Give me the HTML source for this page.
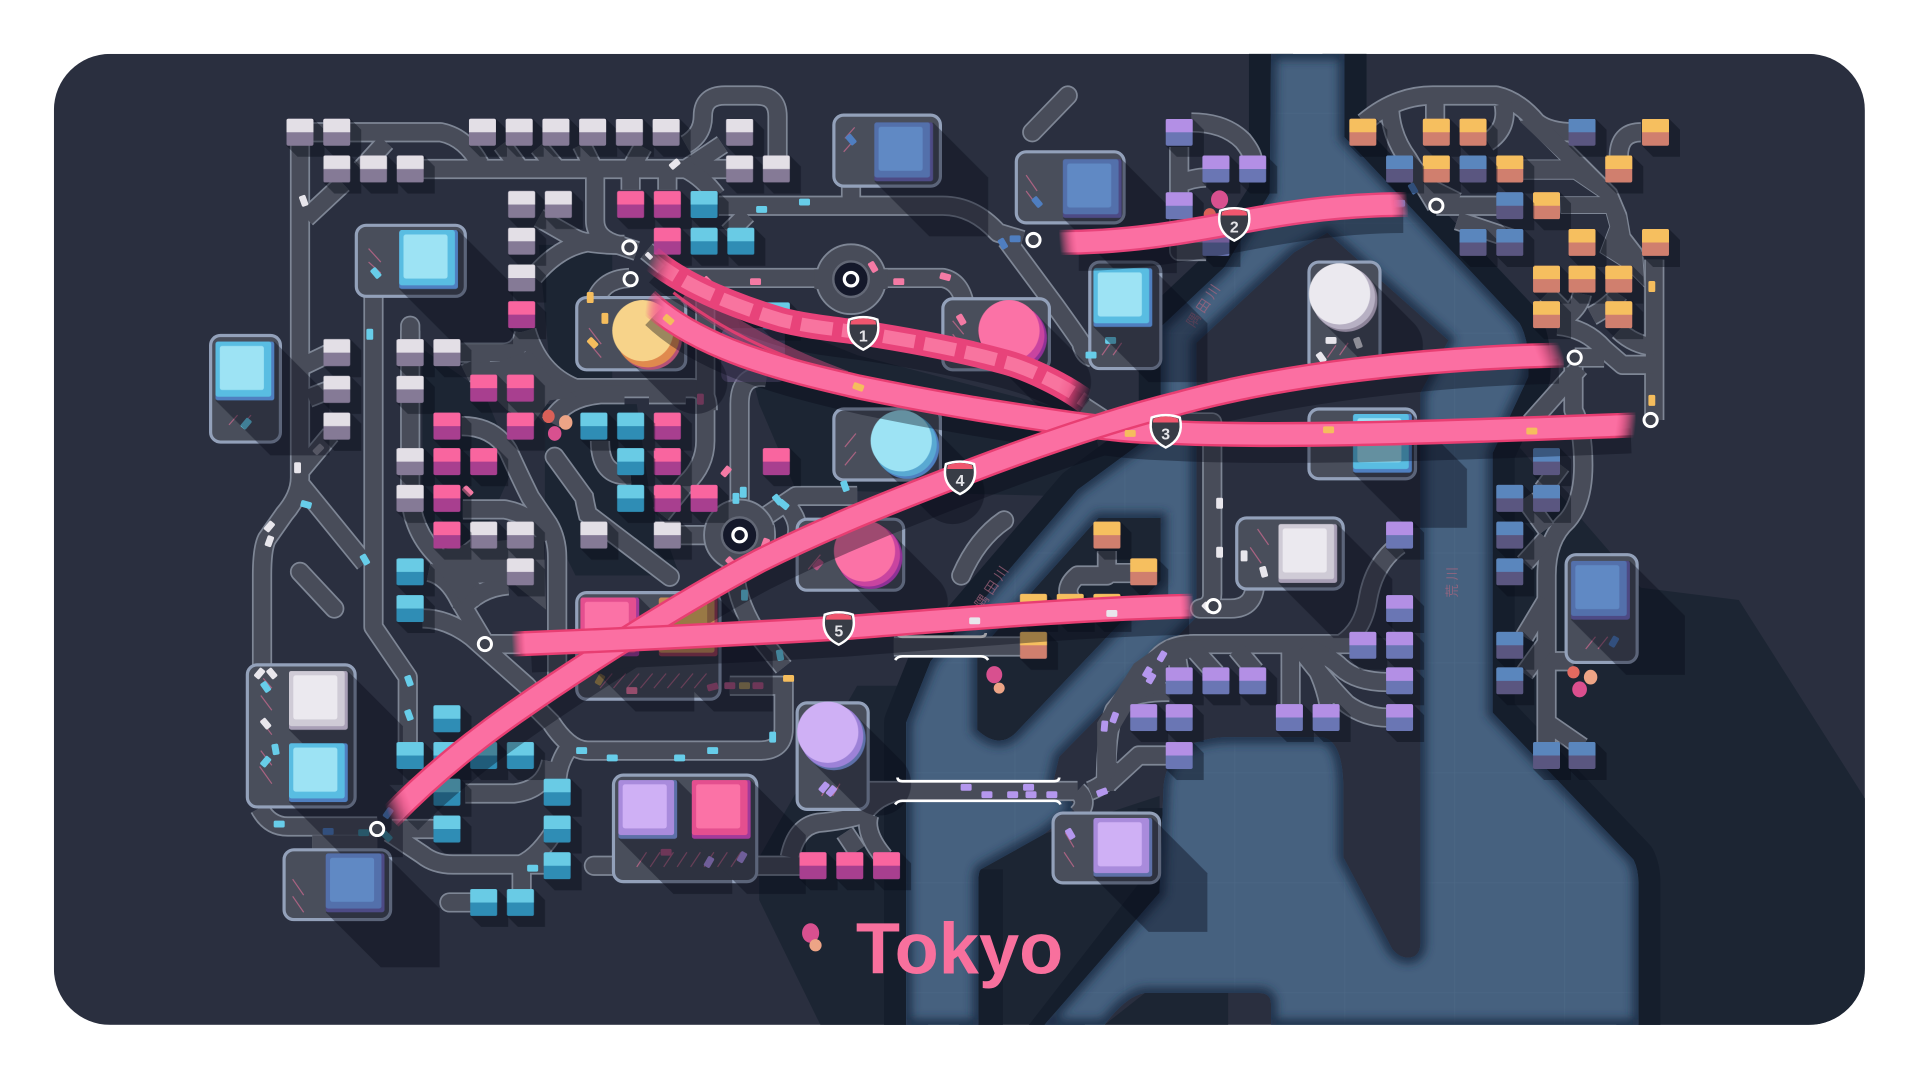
<!DOCTYPE html>
<html lang="en">
<head>
<meta charset="utf-8">
<title>Tokyo</title>
<style>
html,body{margin:0;padding:0;background:#fff;width:1920px;height:1080px;overflow:hidden}
svg{display:block}
.sh{fill:#080c19;opacity:.42}
.num{font:700 13px "Liberation Sans",sans-serif;fill:#e4e4e8;text-anchor:middle}
.riv{font:400 11px "Liberation Sans","Noto Sans CJK JP",sans-serif;fill:#a8667f;opacity:.7;letter-spacing:3px}
.hatch{stroke:#c8698d;stroke-width:1;fill:none;opacity:.75}
.park{fill:#494e5b;stroke:#93a1ba;stroke-width:2.600}
</style>
</head>
<body>
<svg xmlns="http://www.w3.org/2000/svg" width="1920" height="1080" viewBox="0 0 1568 882">
<defs>
<clipPath id="card"><rect x="44" y="44" width="1479" height="793" rx="46"/></clipPath>
<path id="riverP" fill-rule="evenodd" d="M1038,44H1098V112L1241,264Q1250,280 1248,308L1219,370V582L1334,702Q1338,710 1338,721V837H1038V820Q1038,811 1028,811H935Q920,813 902,837H853L947,729L950,648Q950,605 1000,602H1080Q1096,605 1097,640V700L1137,775Q1145,785 1155,781Q1160,778 1160,770V321L1183,278L1084,190L1057,206L977,280V504L865,618L860,639L879,659L853,681L801,710Q799,712 799,720V837H740V590L760,540L880,400L948,350V267L1000,218L1037,158ZM897,423H948V474L829,599Q815,612 798,596V533Z"/>
<clipPath id="riverC"><use href="#riverP" clip-rule="evenodd"/></clipPath>
<filter id="blur" x="-5%" y="-5%" width="110%" height="110%"><feGaussianBlur stdDeviation="4"/></filter>
<pattern id="grid" patternUnits="userSpaceOnUse" width="89.8" height="89.8" x="20.5" y="2.4">
<path d="M0 0H89.8M0 0V89.8" stroke="#55748f" stroke-width=".7" fill="none" opacity=".55"/>
</pattern>

<linearGradient id="stP"><stop offset="0" stop-color="#fb6fa2" stop-opacity="0"/><stop offset=".02" stop-color="#fb6fa2"/><stop offset=".98" stop-color="#fb6fa2"/><stop offset="1" stop-color="#fb6fa2" stop-opacity="0"/></linearGradient>
<linearGradient id="stE"><stop offset="0" stop-color="#e83e72" stop-opacity="0"/><stop offset=".02" stop-color="#e83e72"/><stop offset=".98" stop-color="#e83e72"/><stop offset="1" stop-color="#e83e72" stop-opacity="0"/></linearGradient>
<linearGradient id="stP2"><stop offset="0" stop-color="#fb6fa2" stop-opacity="0"/><stop offset=".05" stop-color="#fb6fa2"/><stop offset=".95" stop-color="#fb6fa2"/><stop offset="1" stop-color="#fb6fa2" stop-opacity="0"/></linearGradient>
<linearGradient id="stE2"><stop offset="0" stop-color="#e8437a" stop-opacity="0"/><stop offset=".05" stop-color="#e8437a"/><stop offset=".95" stop-color="#e8437a"/><stop offset="1" stop-color="#e8437a" stop-opacity="0"/></linearGradient>
<linearGradient id="stL"><stop offset="0" stop-color="#f8749f" stop-opacity="0"/><stop offset=".07" stop-color="#f8749f"/><stop offset=".93" stop-color="#f8749f"/><stop offset="1" stop-color="#f8749f" stop-opacity="0"/></linearGradient>
<linearGradient id="l1" href="#stL" gradientUnits="userSpaceOnUse" x1="531" y1="210" x2="888" y2="329"/>
<linearGradient id="e1" href="#stE2" gradientUnits="userSpaceOnUse" x1="531" y1="210" x2="888" y2="329"/>
<linearGradient id="p2" href="#stP2" gradientUnits="userSpaceOnUse" x1="865" y1="198" x2="1150" y2="167"/>
<linearGradient id="e2" href="#stE2" gradientUnits="userSpaceOnUse" x1="865" y1="198" x2="1150" y2="167"/>
<linearGradient id="p3" href="#stP" gradientUnits="userSpaceOnUse" x1="528" y1="245" x2="1336" y2="347"/>
<linearGradient id="e3" href="#stE" gradientUnits="userSpaceOnUse" x1="528" y1="245" x2="1336" y2="347"/>
<linearGradient id="p4" href="#stP" gradientUnits="userSpaceOnUse" x1="318" y1="668" x2="1277" y2="290"/>
<linearGradient id="e4" href="#stE" gradientUnits="userSpaceOnUse" x1="318" y1="668" x2="1277" y2="290"/>
<linearGradient id="p5" href="#stP" gradientUnits="userSpaceOnUse" x1="418" y1="526" x2="975" y2="495"/>
<linearGradient id="e5" href="#stE" gradientUnits="userSpaceOnUse" x1="418" y1="526" x2="975" y2="495"/>

<path id="bs" d="M11-11l9 9v22h-22l-9-9z"/>
<path id="bt" d="M-11-9.500q0-1.500 1.500-1.500h19q1.500 0 1.500 1.500V0h-22z"/>
<g id="W"><use href="#bs" class="sh"/><rect x="-11" y="-11" width="22" height="22" rx="1.500" fill="#857a96"/><use href="#bt" fill="#e3dfe6"/></g>
<g id="P"><use href="#bs" class="sh"/><rect x="-11" y="-11" width="22" height="22" rx="1.500" fill="#a83f8f"/><use href="#bt" fill="#f9659f"/></g>
<g id="T"><use href="#bs" class="sh"/><rect x="-11" y="-11" width="22" height="22" rx="1.500" fill="#2f8db5"/><use href="#bt" fill="#69cbe5"/></g>
<g id="O"><use href="#bs" class="sh"/><rect x="-11" y="-11" width="22" height="22" rx="1.500" fill="#d07f6e"/><use href="#bt" fill="#f6bf5f"/></g>
<g id="B"><use href="#bs" class="sh"/><rect x="-11" y="-11" width="22" height="22" rx="1.500" fill="#5a5680"/><use href="#bt" fill="#5a86bd"/></g>
<g id="V"><use href="#bs" class="sh"/><rect x="-11" y="-11" width="22" height="22" rx="1.500" fill="#6a76b4"/><use href="#bt" fill="#b38fe5"/></g>

<g id="BT"><rect width="48" height="48" rx="2" fill="#4f7fc0"/><rect width="45.500" height="45" rx="2" fill="#59bde2"/><rect x="3.500" y="3.500" width="36" height="36" rx="2" fill="#9de3f4"/></g>
<g id="BB"><rect width="48" height="48" rx="2" fill="#4d4a85"/><rect width="45.500" height="45" rx="2" fill="#5370ab"/><rect x="3.500" y="3.500" width="36" height="36" rx="2" fill="#6089c4"/></g>
<g id="BW"><rect width="48" height="48" rx="2" fill="#a89fb6"/><rect width="45.500" height="45" rx="2" fill="#cfcbd6"/><rect x="3.500" y="3.500" width="36" height="36" rx="2" fill="#ebe9ef"/></g>
<g id="BV"><rect width="48" height="48" rx="2" fill="#5d70a8"/><rect width="45.500" height="45" rx="2" fill="#a98bdc"/><rect x="3.500" y="3.500" width="36" height="36" rx="2" fill="#cfb0f5"/></g>
<g id="BP"><rect width="48" height="48" rx="2" fill="#a23a9a"/><rect width="45.500" height="45" rx="2" fill="#e44f8f"/><rect x="3.500" y="3.500" width="36" height="36" rx="2" fill="#fb72a6"/></g>
<path id="BS" d="M48 0l45 45v48h-48l-45-45z"/>

<rect id="c" x="-4.500" y="-2.800" width="9" height="5.600" rx="1.300"/>
<path id="shield" d="M-11.500-11Q-6-13 0-13T11.500-11Q15.500 6 0 13.500Q-15.500 6-11.500-11Z"/>

<g id="rd" fill="none" stroke-linejoin="round">
<path d="M245,108H360Q380,112 392,134M315,116L295,138"/>
<path d="M245,108V390Q245,405 232,420L218,440Q214,448 214,470V545"/>
<path d="M245,395L298,460M280,150L250,178M245,300L270,288M252,325L270,318M270,355L245,385"/>
<path d="M305,240V512L333,553V620"/>
<path d="M335,138H604M560,118Q574,110 574,95Q574,78 592,78H618Q635,78 635,95V138M425,138L410,118M455,138L440,120M485,138L475,118M515,138L525,120M560,138L590,118"/>
<path d="M486,138V180Q486,195 505,200L520,205M515,138V155M545,138V155M560,138Q574,145 585,160"/>
<path d="M587,168H770Q795,168 815,190L835,196M822,196L862,250Q880,275 883,280Q885,290 892,292M695,150V168M610,175L595,190"/>
<path d="M528,205L555,227H770Q785,230 788,250"/>
<path d="M514,227Q490,228 485,250M440,178L470,195Q480,200 510,200M436,226Q460,197 490,197"/>
<path d="M430,270Q440,305 470,317H565Q578,317 578,335M376,288H410Q425,288 428,272M380,305L400,295"/>
<path d="M576,245V360Q576,380 560,395L540,420M604,410V330Q604,305 626,308"/>
<path d="M335,270V400Q335,440 370,465L395,490"/>
<path d="M377,348Q403,348 415,368Q425,390 433,406L448,428Q455,440 455,455V560M378,416H412Q435,420 448,440"/>
<path d="M345,505Q365,505 385,520L430,560Q440,570 430,578M350,467Q365,470 375,490L396,525M415,478Q390,480 375,500M360,470L395,442M396,526H425"/>
<path d="M490,360Q490,390 515,388M450,345Q460,325 490,322H510M530,322H560"/>
<path d="M556,437H604M604,436L650,405H700M640,410Q655,425 650,440M600,462Q600,490 620,520L640,545"/>
<path d="M596,560H640M640,555V595Q640,613 620,613H480Q465,613 450,590L430,570M463,613Q455,625 455,640"/>
<path d="M380,648H420Q445,645 450,622M320,677H360M318,680L345,698Q355,706 370,706H425Q440,700 455,675M425,706H445M426,706V730"/>
<path d="M212,660Q220,675 235,675H308M255,689H308"/>
<path d="M610,707H660M880,646H700M735,646Q715,650 705,665Q690,670 668,672Q650,675 645,700M710,665Q705,680 722,700M690,680L700,695"/>
<path d="M730,528H835"/>
<path d="M885,332L905,345H990V485Q990,495 980,497H1005Q1025,497 1025,475"/>
<path d="M904,450V470H880Q868,480 875,490M904,468H925"/>
<path d="M1143,445Q1122,460 1117,490Q1113,515 1095,526H975Q950,526 940,545L910,580Q903,600 903,646M905,640L930,617H955M915,575Q925,565 955,565"/>
<path d="M1054,530V575M1066,530Q1080,550 1085,575M1065,528Q1085,535 1095,545Q1108,557 1133,557M1062,530Q1085,560 1100,575Q1115,586 1133,586M1010,530L1025,548M975,530L993,550M960,530L963,548M1113,526H1095"/>
<path d="M890,646Q905,640 915,625M880,646Q890,655 880,665"/>
<path d="M973,100Q1000,100 1015,115Q1023,125 1023,130M963,120V205H985M963,150Q975,145 985,145"/>
<path d="M1114,100Q1140,78 1170,78H1222Q1240,82 1255,100Q1265,108 1285,108M1351,212V343"/>
<path d="M1135,85Q1135,110 1150,130L1173,168M1172,78V100M1228,85Q1232,105 1215,116M1340,108Q1322,108 1322,128"/>
<path d="M1173,168H1230M1190,180L1235,195M1160,150L1190,165"/>
<path d="M1292,240Q1290,250 1280,258M1322,240Q1315,250 1300,258M1263,240L1285,262M1322,270Q1335,282 1351,283"/>
<path d="M1272,266Q1295,268 1310,285L1325,298H1351M1286,292H1310M1290,300L1250,345M1285,300V335Q1293,350 1293,380Q1293,410 1280,425Q1263,440 1263,470V595M1263,590L1292,610M1263,595V610M1263,540H1285"/>
<path d="M1245,407L1263,432M1245,460L1263,440M1245,520L1263,490M1245,550L1263,525M1275,380L1260,400"/>
</g>
<g id="rc" fill="none" stroke-linecap="round">
<path d="M245,467L273,497"/>
<path d="M872,78L843,108"/>
<path d="M453,373L477,406Q478,412 480,420L547,471"/>
<path d="M335,266V280"/>
<path d="M395,737H367"/>
<path d="M510,707H485"/>
<path d="M820,425Q798,440 785,470"/>
</g>
</defs>

<rect width="1568" height="882" fill="#fff"/>
<g clip-path="url(#card)">
<rect x="44" y="44" width="1479" height="793" fill="#2a2f3f"/>

<!-- land shadows -->
<g fill="#1c2533">
<path d="M1219,340L1340,480L1420,490L1523,652V837H1338V720L1219,600Z"/>
<path d="M620,700V735L670,837H740V560H700Z"/>
<path d="M799,710L853,681L947,650V729L853,837H799Z"/>
<path d="M902,837L935,811H1003V837Z"/>
<path d="M600,250L700,290L890,340L900,375L860,405L650,400L620,330Z"/>
<path d="M440,200H500V310H450Z"/>
<path d="M445,330H520L530,400L555,470H470L445,420Z"/>
<path d="M345,285L395,320L420,380L380,470L345,450Z"/>
</g>

<!-- river -->
<g fill="none" stroke="#151e2c" stroke-width="36" stroke-linejoin="round">
<path d="M1038,30V158L1000,218L948,267V350L880,400L760,540L740,590V850"/>
<path d="M1098,30V112L1241,264Q1250,280 1248,308L1219,370V582L1334,702Q1338,710 1338,721V850"/>
<path d="M801,710V850M853,850L947,729V660"/>
</g>
<path fill="#1c2533" d="M897,423H948V474L829,599Q815,612 798,596V533Z"/>
<use href="#riverP" fill="#46617f"/>
<use href="#riverP" fill="url(#grid)"/>
<g clip-path="url(#riverC)">
<use href="#riverP" fill="none" stroke="#1d2f46" stroke-width="9" filter="url(#blur)"/>
</g>
<text class="riv" transform="translate(975,268) rotate(-56)">隅田川</text>
<text class="riv" transform="translate(802,498) rotate(-56)">隅田川</text>
<text class="riv" transform="translate(1190,488) rotate(-90)">荒川</text>

<!-- roads -->
<g stroke="#7e8695" stroke-width="1.500" fill="#484c59" stroke-linejoin="round">
<path d="M1241,97L1258,93L1282,117L1320,155L1328,174L1331,191L1341,204L1343,234L1329,220L1307,206L1315,185L1312,174L1275,174L1274,161L1307,161L1285,146L1244,146L1244,131L1275,131Z"/>
</g>
<use href="#rd" stroke="#7e8695" stroke-width="16.500"/>
<use href="#rc" stroke="#7e8695" stroke-width="16.500"/>
<use href="#rd" stroke="#484c59" stroke-width="13.700"/>
<use href="#rc" stroke="#484c59" stroke-width="13.700"/>
<g fill="#484c59">
<path d="M896,590L926,542L953,523H980V534L953,544L951,563L928,572L912,599L911,632L896,650Z"/>
<path d="M378,297L408,295L433,286L449,308L471,324L449,327L435,346L414,335L384,305Z"/>
<path d="M347,452L384,444L444,438L446,498L416,474L389,476L377,493L370,482Z"/>
<path d="M1241,99L1258,95L1282,119L1320,157L1328,176L1331,193L1341,206L1343,234L1329,220L1307,206L1315,185L1312,174L1275,174L1274,161L1307,161L1285,146L1244,146L1244,131L1275,131Z"/>
</g>

<!-- hubs -->
<circle cx="695" cy="228" r="28.500" fill="#484c59" stroke="#7e8695" stroke-width="1.500"/>
<circle cx="604" cy="437" r="29" fill="#484c59" stroke="#7e8695" stroke-width="1.500"/>
<path fill="#484c59" d="M665,220H725V236H665ZM577,429H632V445H577Z"/>

<!-- parks -->
<rect class="park" x="291" y="184" width="89" height="58" rx="8"/>
<rect class="park" x="172" y="274" width="57" height="87" rx="8"/>
<rect class="park" x="471" y="243" width="89" height="59" rx="8"/>
<rect class="park" x="681" y="94" width="87" height="58" rx="8"/>
<rect class="park" x="830" y="124" width="88" height="58" rx="8"/>
<rect class="park" x="770" y="244" width="87" height="58" rx="8"/>
<rect class="park" x="890" y="214" width="58" height="87" rx="8"/>
<rect class="park" x="1069" y="214" width="58" height="90" rx="8"/>
<rect class="park" x="1069" y="334" width="87" height="57" rx="8"/>
<rect class="park" x="681" y="334" width="87" height="58" rx="8"/>
<rect class="park" x="1010" y="423" width="87" height="58" rx="8"/>
<rect class="park" x="1279" y="453" width="58" height="88" rx="8"/>
<rect class="park" x="651" y="424" width="87" height="58" rx="8"/>
<rect class="park" x="471" y="484" width="117" height="87" rx="8"/>
<rect class="park" x="202" y="543" width="88" height="116" rx="8"/>
<rect class="park" x="651" y="574" width="58" height="87" rx="8"/>
<rect class="park" x="232" y="694" width="87" height="57" rx="8"/>
<rect class="park" x="501" y="633" width="117" height="87" rx="8"/>
<rect class="park" x="860" y="664" width="87" height="57" rx="8"/>

<rect x="589" y="268" width="52" height="44" rx="6" fill="#6d5e8d" opacity=".55"/>

<!-- hatch -->
<g class="hatch">
<path d="M301,203l10,11M301,214l10,9M698,104l-8,9M697,115l-8,9M838,143l9,13M838,156l9,12"/>
<path d="M187,347l7-8M198,347l7-8M481,268l10,13M481,280l10,12M778,262l9,11M778,273l9,11M909,290l7-10M900,290l7-10"/>
<path d="M1094,290l7-10M1084,292l7-10M1036,445l-9-13M1030,460l-9-13M1305,530l8-10M1295,530l8-10M690,365l9-11M690,380l9-11"/>
<path d="M660,465l10-12M665,445l-8-10"/>
<path d="M490,562l10-12M501,562l10-12M512,562l10-12M523,562l10-12M534,562l10-12M545,562l10-12M556,562l10-12M567,562l10-12"/>
<path d="M222,562l-7-8M222,580l-9-12M222,600l-9-12M222,625l-9-12M222,640l-10-14M248,731l-9-13M248,745l-9-13"/>
<path d="M520,708l8-12M531,708l8-12M542,708l8-12M553,708l8-12M564,708l8-12M575,708l8-12M586,708l8-12M597,708l8-12"/>
<path d="M671,650l6-10M680,650l6-10M877,692l-7-12M877,708l-8-12"/>
</g>

<!-- cars -->
<g fill="#e8e6ec">
<use href="#c" transform="translate(248,164) rotate(70)"/><use href="#c" transform="translate(551,134) rotate(-40)"/><use href="#c" transform="translate(530,209) rotate(45) scale(.7)"/>
<use href="#c" transform="translate(243,382) rotate(90)"/><use href="#c" transform="translate(220,430) rotate(-50)"/><use href="#c" transform="translate(220,442) rotate(-70)"/>
<use href="#c" transform="translate(212,550) rotate(-50)"/><use href="#c" transform="translate(222,550) rotate(50)"/><use href="#c" transform="translate(217,591) rotate(50)"/>
<use href="#c" transform="translate(1087,278)"/><use href="#c" transform="translate(1109,280) rotate(70)"/><use href="#c" transform="translate(1079,292) rotate(55)"/>
<use href="#c" transform="translate(996,411) rotate(90)"/><use href="#c" transform="translate(996,451) rotate(90)"/><use href="#c" transform="translate(1016,454) rotate(90)"/><use href="#c" transform="translate(1032,467) rotate(75)"/><use href="#c" transform="translate(986,496) rotate(45)"/>
</g>
<use href="#c" transform="translate(260,367) rotate(-45)" fill="#8a8a96"/>
<g fill="#f47aa4">
<use href="#c" transform="translate(617,230)"/><use href="#c" transform="translate(578,230) rotate(45)"/><use href="#c" transform="translate(713,218) rotate(60)"/><use href="#c" transform="translate(734,230)"/><use href="#c" transform="translate(772,226) rotate(15)"/>
<use href="#c" transform="translate(593,385) rotate(-50)"/><use href="#c" transform="translate(625,444) rotate(-70)"/><use href="#c" transform="translate(597,459) rotate(45)"/><use href="#c" transform="translate(516,564)"/><use href="#c" transform="translate(785,261) rotate(60)"/><use href="#c" transform="translate(382,401) rotate(45)"/>
</g>
<g fill="#b25582">
<use href="#c" transform="translate(582,561) rotate(-15)"/><use href="#c" transform="translate(596,560)"/><use href="#c" transform="translate(619,560)"/><use href="#c" transform="translate(572,326) rotate(90)"/><use href="#c" transform="translate(544,696)"/><use href="#c" transform="translate(668,461) rotate(-50)"/>
</g>
<use href="#c" transform="translate(608,560)" fill="#a6905d"/>
<g fill="#67cde9">
<use href="#c" transform="translate(622,171)"/><use href="#c" transform="translate(657,165)"/><use href="#c" transform="translate(302,273) rotate(90)"/><use href="#c" transform="translate(307,223) rotate(50)"/>
<use href="#c" transform="translate(250,412) rotate(15)"/><use href="#c" transform="translate(298,457) rotate(60)"/><use href="#c" transform="translate(334,556) rotate(70)"/><use href="#c" transform="translate(334,584) rotate(70)"/>
<use href="#c" transform="translate(601,407) rotate(90)"/><use href="#c" transform="translate(607,402) rotate(90)"/><use href="#c" transform="translate(635,408) rotate(50)"/><use href="#c" transform="translate(640,412) rotate(40)"/><use href="#c" transform="translate(608,486) rotate(90)"/><use href="#c" transform="translate(637,535) rotate(80)"/>
<use href="#c" transform="translate(475,613)"/><use href="#c" transform="translate(500,619)"/><use href="#c" transform="translate(555,619)"/><use href="#c" transform="translate(582,613)"/><use href="#c" transform="translate(631,602) rotate(90)"/>
<use href="#c" transform="translate(217,561) rotate(55)"/><use href="#c" transform="translate(225,612) rotate(80)"/><use href="#c" transform="translate(217,622) rotate(-50)"/><use href="#c" transform="translate(228,673)"/><use href="#c" transform="translate(435,709)"/><use href="#c" transform="translate(907,278)"/><use href="#c" transform="translate(891,290)"/><use href="#c" transform="translate(201,346) rotate(-50)"/><use href="#c" transform="translate(690,397) rotate(70)"/>
</g>
<g fill="#f5bd5d">
<use href="#c" transform="translate(482,243) rotate(90)"/><use href="#c" transform="translate(494,260) rotate(90)"/><use href="#c" transform="translate(484,280) rotate(45)"/><use href="#c" transform="translate(644,554)"/><use href="#c" transform="translate(1349,234) rotate(90)"/><use href="#c" transform="translate(1349,327) rotate(90)"/>
</g>
<use href="#c" transform="translate(490,555) rotate(-60)" fill="#b09150"/>
<g fill="#4f7ec0">
<use href="#c" transform="translate(695,114) rotate(50)"/><use href="#c" transform="translate(847,165) rotate(50)"/><use href="#c" transform="translate(829,195)"/><use href="#c" transform="translate(819,199) rotate(60)"/><use href="#c" transform="translate(1143,166)"/><use href="#c" transform="translate(1154,154) rotate(60)"/><use href="#c" transform="translate(268,679)"/><use href="#c" transform="translate(317,664) rotate(-55)"/><use href="#c" transform="translate(1318,524) rotate(-60)"/><use href="#c" transform="translate(875,355) rotate(40)"/>
</g>
<g fill="#3e8a9f">
<use href="#c" transform="translate(297,680)"/><use href="#c" transform="translate(316,683) rotate(45)"/>
</g>
<g fill="#b497ee">
<use href="#c" transform="translate(949,536) rotate(-60)"/><use href="#c" transform="translate(937,549) rotate(-60)"/><use href="#c" transform="translate(940,554) rotate(-60)"/><use href="#c" transform="translate(910,586) rotate(-70)"/><use href="#c" transform="translate(902,593) rotate(-85)"/><use href="#c" transform="translate(900,647) rotate(-20)"/>
<use href="#c" transform="translate(789,643)"/><use href="#c" transform="translate(806,649)"/><use href="#c" transform="translate(827,649)"/><use href="#c" transform="translate(840,643)"/><use href="#c" transform="translate(842,649)"/><use href="#c" transform="translate(859,649)"/>
<use href="#c" transform="translate(673,643) rotate(-50)"/><use href="#c" transform="translate(679,646) rotate(-50)"/><use href="#c" transform="translate(579,704) rotate(-60)"/><use href="#c" transform="translate(606,700) rotate(-60)"/><use href="#c" transform="translate(874,681) rotate(60)"/>
</g>

<!-- building long shadows -->
<g fill="#080c19" opacity=".4">
<use href="#BS" x="326" y="188"/><use href="#BS" x="176" y="279"/><use href="#BS" x="714" y="100"/><use href="#BS" x="868" y="130"/><use href="#BS" x="893" y="219"/><use href="#BS" x="1105" y="338"/><use href="#BS" x="1044" y="428"/><use href="#BS" x="1283" y="458"/><use href="#BS" x="474" y="488"/><use href="#BS" x="538" y="488"/><use href="#BS" x="236" y="548"/><use href="#BS" x="236" y="607"/><use href="#BS" x="266" y="697"/><use href="#BS" x="505" y="637"/><use href="#BS" x="565" y="637"/><use href="#BS" x="893" y="668"/>
<path stroke="#080c19" stroke-width="52" stroke-linecap="round" d="M528,272l40,40M825,272l40,40M1096,242l40,40M738,362l40,40M708,452l40,40M678,600l40,40"/>
</g>

<use href="#T" x="634" y="258"/>

<!-- buildings -->
<use href="#BT" x="326" y="188"/>
<use href="#BT" x="176" y="279"/>
<use href="#BB" x="714" y="100"/>
<use href="#BB" x="868" y="130"/>
<use href="#BT" x="893" y="219"/>
<use href="#BT" x="1105" y="338"/>
<use href="#BW" x="1044" y="428"/>
<use href="#BB" x="1283" y="458"/>
<use href="#BP" x="474" y="488"/>
<g transform="translate(538,488)"><rect width="48" height="48" rx="2" fill="#9a3d55"/><rect width="45.500" height="45" rx="2" fill="#c58a55"/><rect x="3.500" y="3.500" width="36" height="36" rx="2" fill="#f3bd62"/></g>
<use href="#BW" x="236" y="548"/>
<use href="#BT" x="236" y="607"/>
<use href="#BB" x="266" y="697"/>
<use href="#BV" x="505" y="637"/>
<use href="#BP" x="565" y="637"/>
<use href="#BV" x="893" y="668"/>

<!-- circular buildings -->
<g>
<circle cx="531" cy="276" r="26" fill="#b55177"/><circle cx="529" cy="274" r="26" fill="#e08a4e"/><circle cx="525" cy="270" r="25" fill="#f7d38a"/>
<circle cx="829" cy="276" r="26" fill="#8e3196"/><circle cx="827" cy="274" r="26" fill="#c944a0"/><circle cx="824" cy="270" r="25" fill="#fb72a6"/>
<circle cx="1099" cy="245" r="26" fill="#8d8499"/><circle cx="1097" cy="243" r="26" fill="#b7b0c3"/><circle cx="1094" cy="240" r="25" fill="#ebe9ef"/>
<circle cx="741" cy="365" r="26" fill="#4f7fc0"/><circle cx="739" cy="363" r="26" fill="#59a9d2"/><circle cx="736" cy="360" r="25" fill="#9de3f4"/>
<circle cx="711" cy="455" r="26" fill="#8e3196"/><circle cx="709" cy="453" r="26" fill="#c944a0"/><circle cx="706" cy="450" r="25" fill="#fb72a6"/>
<circle cx="681" cy="603" r="26" fill="#5d70a8"/><circle cx="679" cy="601" r="26" fill="#9d82d8"/><circle cx="676" cy="598" r="25" fill="#cfb0f5"/>
</g>

<!-- city blocks -->
<g>
<use href="#W" x="245" y="108"/><use href="#W" x="275" y="108"/><use href="#W" x="394" y="108"/><use href="#W" x="424" y="108"/><use href="#W" x="454" y="108"/><use href="#W" x="484" y="108"/><use href="#W" x="514" y="108"/><use href="#W" x="544" y="108"/><use href="#W" x="604" y="108"/>
<use href="#W" x="275" y="138"/><use href="#W" x="305" y="138"/><use href="#W" x="335" y="138"/><use href="#W" x="604" y="138"/><use href="#W" x="634" y="138"/>
<use href="#W" x="426" y="167"/><use href="#W" x="456" y="167"/><use href="#W" x="426" y="197"/><use href="#W" x="426" y="227"/>
<use href="#W" x="275" y="288"/><use href="#W" x="275" y="318"/><use href="#W" x="275" y="348"/><use href="#W" x="335" y="288"/><use href="#W" x="365" y="288"/><use href="#W" x="335" y="318"/><use href="#W" x="335" y="377"/><use href="#W" x="335" y="407"/>
<use href="#W" x="395" y="437"/><use href="#W" x="425" y="437"/><use href="#W" x="425" y="467"/><use href="#W" x="485" y="437"/><use href="#W" x="545" y="437"/>

<use href="#P" x="426" y="257"/><use href="#P" x="515" y="167"/><use href="#P" x="545" y="167"/><use href="#P" x="545" y="197"/>
<use href="#P" x="395" y="317"/><use href="#P" x="425" y="317"/><use href="#P" x="365" y="348"/><use href="#P" x="425" y="348"/><use href="#P" x="365" y="377"/><use href="#P" x="395" y="377"/><use href="#P" x="365" y="407"/><use href="#P" x="365" y="437"/>
<use href="#P" x="545" y="348"/><use href="#P" x="545" y="377"/><use href="#P" x="545" y="407"/><use href="#P" x="575" y="407"/><use href="#P" x="634" y="377"/>
<use href="#P" x="664" y="707"/><use href="#P" x="694" y="707"/><use href="#P" x="724" y="707"/>

<use href="#T" x="575" y="167"/><use href="#T" x="575" y="197"/><use href="#T" x="605" y="197"/>
<use href="#T" x="485" y="348"/><use href="#T" x="515" y="348"/><use href="#T" x="515" y="377"/><use href="#T" x="515" y="407"/>
<use href="#T" x="335" y="467"/><use href="#T" x="335" y="497"/><use href="#T" x="365" y="587"/><use href="#T" x="335" y="617"/><use href="#T" x="365" y="617"/><use href="#T" x="395" y="617"/><use href="#T" x="425" y="617"/>
<use href="#T" x="365" y="647"/><use href="#T" x="455" y="647"/><use href="#T" x="365" y="677"/><use href="#T" x="455" y="677"/><use href="#T" x="455" y="707"/><use href="#T" x="395" y="737"/><use href="#T" x="425" y="737"/>

<use href="#O" x="1113" y="108"/><use href="#O" x="1173" y="108"/><use href="#O" x="1203" y="108"/><use href="#O" x="1173" y="138"/><use href="#O" x="1233" y="138"/><use href="#O" x="1263" y="168"/><use href="#O" x="1292" y="198"/><use href="#O" x="1352" y="198"/><use href="#O" x="1263" y="228"/><use href="#O" x="1292" y="228"/><use href="#O" x="1322" y="228"/><use href="#O" x="1263" y="257"/><use href="#O" x="1322" y="257"/><use href="#O" x="1322" y="138"/><use href="#O" x="1352" y="108"/>
<use href="#O" x="904" y="437"/><use href="#O" x="934" y="467"/><use href="#O" x="844" y="496"/><use href="#O" x="874" y="496"/><use href="#O" x="904" y="496"/><use href="#O" x="844" y="527"/>

<use href="#B" x="1292" y="108"/><use href="#B" x="1143" y="138"/><use href="#B" x="1203" y="138"/><use href="#B" x="1233" y="168"/><use href="#B" x="1203" y="198"/><use href="#B" x="1233" y="198"/>
<use href="#B" x="1263" y="377"/><use href="#B" x="1233" y="407"/><use href="#B" x="1263" y="407"/><use href="#B" x="1233" y="437"/><use href="#B" x="1233" y="467"/><use href="#B" x="1233" y="527"/><use href="#B" x="1233" y="556"/><use href="#B" x="1263" y="617"/><use href="#B" x="1292" y="617"/>

<use href="#V" x="963" y="108"/><use href="#V" x="993" y="138"/><use href="#V" x="1023" y="138"/><use href="#V" x="963" y="168"/><use href="#V" x="993" y="198"/>
<use href="#V" x="1143" y="437"/><use href="#V" x="1143" y="497"/><use href="#V" x="1113" y="527"/><use href="#V" x="1143" y="527"/><use href="#V" x="1143" y="556"/><use href="#V" x="1143" y="586"/><use href="#V" x="963" y="556"/><use href="#V" x="993" y="556"/><use href="#V" x="1023" y="556"/><use href="#V" x="1053" y="586"/><use href="#V" x="1083" y="586"/><use href="#V" x="934" y="586"/><use href="#V" x="963" y="586"/><use href="#V" x="963" y="617"/>
</g>

<!-- pins -->
<ellipse cx="448" cy="340" rx="5" ry="5.500" fill="#d96058"/><ellipse cx="462" cy="345" rx="5.500" ry="6" fill="#eda486"/><ellipse cx="453" cy="354" rx="5.500" ry="6" fill="#d8508f"/>
<ellipse cx="996" cy="163" rx="7" ry="7.500" fill="#d8508f"/><ellipse cx="988" cy="175" rx="5" ry="5" fill="#d96058"/>
<ellipse cx="812" cy="551" rx="6.500" ry="7" fill="#d8508f"/><ellipse cx="816" cy="562" rx="4.500" ry="4.500" fill="#eda486"/>
<ellipse cx="1285" cy="549" rx="5" ry="5" fill="#e36a60"/><ellipse cx="1299" cy="553" rx="5.500" ry="6" fill="#eda486"/><ellipse cx="1290" cy="563" rx="6" ry="6.500" fill="#db4f8e"/>

<!-- bridges -->
<g fill="none" stroke="#fff" stroke-width="2.200">
<path d="M733,517Q733,520 737,520H801Q805,520 805,517"/>
<path d="M731,539Q733,536 737,536H801Q805,536 807,539"/>
<path d="M733,635Q733,638 737,638H861Q865,638 865,635"/>
<path d="M731,657Q733,654 737,654H861Q865,654 866,657"/>
</g>

<!-- highway shadows -->
<g fill="none" stroke="#080c19" stroke-width="20.500" opacity=".38" transform="translate(6,13)">
<path d="M531,210C555,232 600,250 637,261C660,267 685,269 705,272C750,279 790,287 822,296C840,301 870,315 878,321"/>
<path d="M875,198C920,198 965,190 1008,182C1060,172 1100,167 1140,167"/>
<path d="M528,245C570,285 640,302 701,316C760,328 800,335 876,346C900,349 915,352 952,353C1050,358 1200,352 1326,347"/>
<path d="M328,658C350,635 380,610 420,582C480,540 560,490 620,458C680,428 740,405 784,388C830,370 900,345 960,330C1050,305 1170,292 1267,290"/>
<path d="M428,526C520,522 600,518 685,513C790,505 880,497 965,495"/>
</g>

<!-- highways -->
<g fill="none">
<path d="M560,240C600,270 640,292 690,310" stroke="#a8426e" stroke-width="15" opacity=".6"/>
<path d="M550,239C590,270 640,295 700,309" stroke="#e83e72" stroke-width="2.500" opacity=".9"/>

<path d="M528,245C570,285 640,302 701,316C760,328 800,335 876,346C900,349 915,352 952,353C1050,358 1200,352 1336,347" stroke="url(#e3)" stroke-width="20.500"/>
<path d="M528,245C570,285 640,302 701,316C760,328 800,335 876,346C900,349 915,352 952,353C1050,358 1200,352 1336,347" stroke="url(#p3)" stroke-width="16.500"/>

<path d="M318,668C345,640 380,610 420,582C480,540 560,490 620,458C680,428 740,405 784,388C830,370 900,345 960,330C1050,305 1170,292 1277,290" stroke="url(#e4)" stroke-width="20.500"/>
<path d="M318,668C345,640 380,610 420,582C480,540 560,490 620,458C680,428 740,405 784,388C830,370 900,345 960,330C1050,305 1170,292 1277,290" stroke="url(#p4)" stroke-width="16.500"/>

<path d="M418,526C520,522 600,518 685,513C790,505 880,497 975,495" stroke="url(#e5)" stroke-width="20.500"/>
<path d="M418,526C520,522 600,518 685,513C790,505 880,497 975,495" stroke="url(#p5)" stroke-width="16.500"/>

<path d="M865,198C920,198 965,190 1008,182C1060,172 1100,167 1150,167" stroke="url(#e2)" stroke-width="20.500"/>
<path d="M865,198C920,198 965,190 1008,182C1060,172 1100,167 1150,167" stroke="url(#p2)" stroke-width="16.500"/>

<path d="M531,210C555,232 600,250 637,261C660,267 685,269 705,272C750,279 790,287 822,296C840,301 870,315 888,329" stroke="url(#e1)" stroke-width="20.500"/>
<path d="M531,210C555,232 600,250 637,261C660,267 685,269 705,272C750,279 790,287 822,296C840,301 870,315 888,329" stroke="url(#l1)" stroke-width="11" stroke-dasharray="26 8"/>
</g>

<use href="#c" transform="translate(546,261) rotate(40)" fill="#f5bd5d"/>
<use href="#c" transform="translate(701,316) rotate(20)" fill="#f5bd5d"/>
<use href="#c" transform="translate(923,354)" fill="#f5bd5d"/>
<use href="#c" transform="translate(1085,351)" fill="#f5bd5d"/>
<use href="#c" transform="translate(1251,352)" fill="#f5bd5d"/>
<use href="#c" transform="translate(796,507)" fill="#e8e6ec"/>
<use href="#c" transform="translate(908,501)" fill="#e8e6ec"/>

<!-- shields -->
<g stroke="#fff" stroke-width="2" fill="#383c46">
<use href="#shield" x="705" y="272"/><use href="#shield" x="1008" y="183"/><use href="#shield" x="952" y="352"/><use href="#shield" x="784" y="390"/><use href="#shield" x="685" y="513"/>
</g>
<g fill="#f0566e">
<path d="M695,262Q700,260 705,260T715,262L715.500,265H694.500Z"/>
<path d="M998,173Q1003,171 1008,171T1018,173L1018.500,176H997.500Z"/>
<path d="M942,342Q947,340 952,340T962,342L962.500,345H941.500Z"/>
<path d="M774,380Q779,378 784,378T794,380L794.500,383H773.500Z"/>
<path d="M675,503Q680,501 685,501T695,503L695.500,506H674.500Z"/>
</g>
<text class="num" x="705" y="279">1</text>
<text class="num" x="1008" y="190">2</text>
<text class="num" x="952" y="359">3</text>
<text class="num" x="784" y="397">4</text>
<text class="num" x="685" y="520">5</text>

<!-- hub centres and nodes -->
<circle cx="695" cy="228" r="14.500" fill="#14182a" stroke="#636876" stroke-width="2"/>
<circle cx="604" cy="437" r="14.500" fill="#14182a" stroke="#636876" stroke-width="2"/>
<g fill="#14182a" stroke="#fff" stroke-width="2.600">
<circle cx="695" cy="228" r="5.500"/><circle cx="604" cy="437" r="5.500"/>
</g>
<g fill="#3c404c" stroke="#fff" stroke-width="2.400">
<circle cx="514" cy="202" r="5.400"/><circle cx="515" cy="228" r="5.400"/><circle cx="844" cy="196" r="5.400"/><circle cx="1173" cy="168" r="5.400"/><circle cx="1286" cy="292" r="5.400"/><circle cx="1348" cy="343" r="5.400"/><circle cx="991" cy="495" r="5.400"/><circle cx="396" cy="526" r="5.400"/><circle cx="308" cy="677" r="5.400"/>
</g>

<!-- title -->
<ellipse cx="662" cy="762" rx="7" ry="8" fill="#d8508f"/>
<ellipse cx="666" cy="772" rx="5" ry="5" fill="#eda486"/>
<text x="699" y="795" font-family="'Liberation Sans',sans-serif" font-weight="700" font-size="59" fill="#f8709d">Tokyo</text>
</g>
</svg>
</body>
</html>
